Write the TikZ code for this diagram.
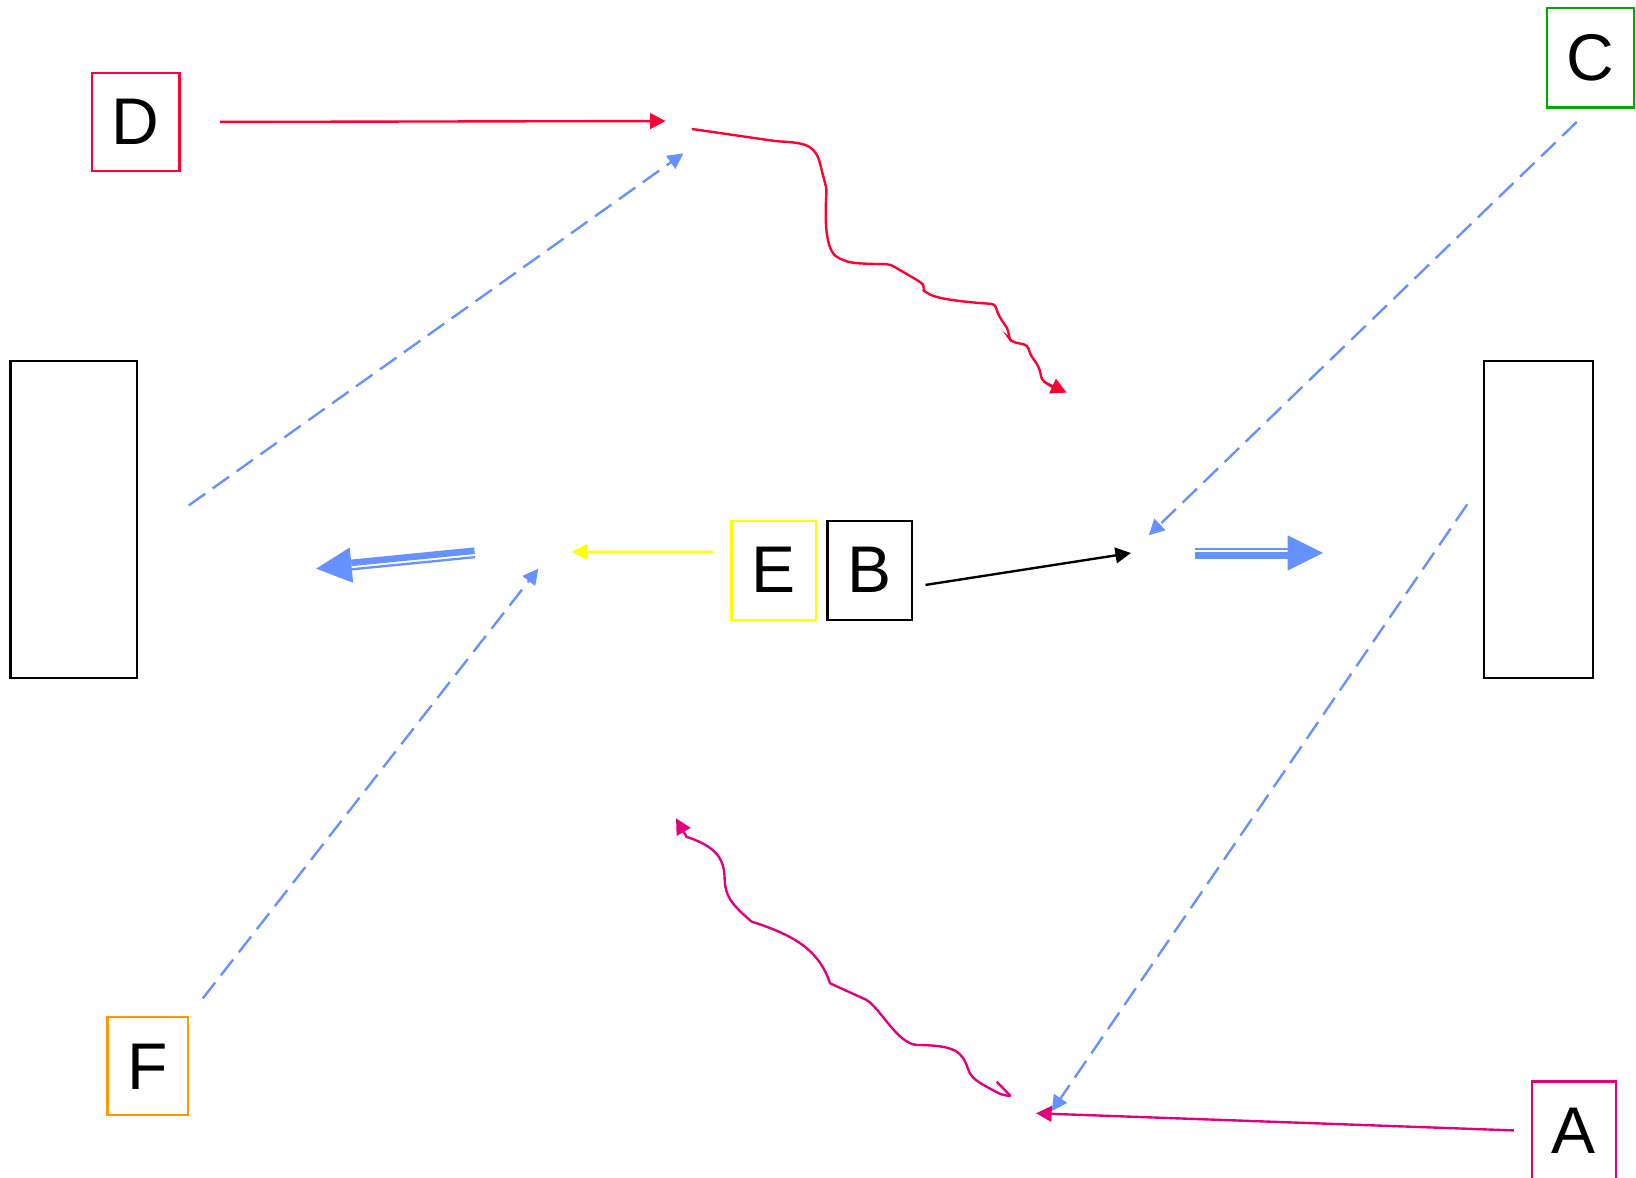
\documentclass[tikz,border=0pt]{standalone}
\usepackage{fontspec}
\setmainfont{Liberation Sans}
\usetikzlibrary{arrows.meta, positioning, calc}

\definecolor{linkred}{RGB}{255,0,51}
\definecolor{linkmag}{RGB}{224,0,128}
\definecolor{linkblue}{RGB}{102,146,255}
\definecolor{boxgreen}{RGB}{0,170,0}
\definecolor{boxorange}{RGB}{255,153,0}
\definecolor{boxyellow}{RGB}{255,255,0}

\tikzset{
    box/.style={draw, line width=1.2pt, inner sep=0pt, minimum width=1.62cm, minimum height=1.9cm, font=\fontsize{36}{40}\selectfont},
    wall/.style={draw, line width=1.2pt, minimum height=6.08cm},
    link/.style={line width=1.3pt, -{Triangle[length=8.5pt,width=8.5pt]}},
    dashlink/.style={link, linkblue, dash pattern=on 11pt off 5pt}
}

\begin{document}
\begin{tikzpicture}[x=0.02cm, y=-0.02cm]
        % Page size
        \useasboundingbox (0,0) rectangle (1568,1129);
        % Letter boxes
        \node[box, draw=linkred, minimum width=1.68cm, minimum height=1.88cm] (D) at (130,117) {D};
        \node[box, draw=boxgreen, minimum width=1.66cm] (C) at (1524.5,55.5) {C};
        \node[box, draw=boxyellow] (E) at (741.5,546.5) {E};
        \node[box, right=0.18cm of E] (B) {B};
        \node[box, draw=boxorange, minimum width=1.54cm, minimum height=1.88cm] (F) at (141.5,1022) {F};
        \node[box, draw=linkmag] (A) at (1508.5,1084) {A};
        % Tall empty boxes
        \node[wall, minimum width=2.42cm] (Lwall) at (70.5,498) {};
        \node[wall, minimum width=2.1cm] (Rwall) at (1474.5,498) {};
        % Free ends
        \coordinate (Dtip) at (638,116);
        \coordinate (Ctip) at (1101,513);
        \coordinate (Ltip) at (655,147);
        \coordinate (Rtip) at (1008,1065);
        \coordinate (Ftip) at (516,545);
        \coordinate (Etip) at (548,529);
        \coordinate (Btip) at (1084,530);
        \coordinate (Atip) at (993,1067);
        \coordinate (waveStart) at (663,123.6);
        \coordinate (waveEnd) at (1022.3,376.3);
        \coordinate (hookEnd) at (968.6,1050.4);
        \coordinate (waveTip) at (647.9,784.3);
        \coordinate (fatLs) at (455,530);
        \coordinate (fatLt) at (303,545);
        \coordinate (fatRs) at (1145,530);
        \coordinate (fatRt) at (1268,530);
        % Straight arrows
        \draw[link, linkred, shorten <=0.76cm] (D) -- (Dtip);
        \draw[link, boxyellow, shorten <=0.32cm] (E.157) -- (Etip);
        \draw[link, shorten <=0.24cm] (B.-21) -- (Btip);
        \draw[link, linkmag, shorten <=0.32cm] (A.west) -- (Atip);
        % Dashed arrows
        \draw[dashlink, shorten <=0.37cm] (C.south) -- (Ctip);
        \draw[dashlink, shorten <=1.2cm] (Lwall.-19) -- (Ltip);
        \draw[dashlink, shorten <=0.52cm] (Rwall.146) -- (Rtip);
        \draw[dashlink, shorten <=0.43cm] (F.north east) -- (Ftip);
        % Red wavy arrow
        \draw[link, linkred, rounded corners=2pt] (waveStart) -- (744.4,135.4)
            .. controls (775,137) and (782,140) .. (787.5,162.9) -- (792.3,181.5)
            .. controls (790,218) and (792,243) .. (808.3,249.2)
            .. controls (818,253) and (840,253) .. (853,253.3) -- (881.7,270)
            .. controls (885,273) and (886,279) .. (888.1,280.5)
            .. controls (900,287) and (930,290) .. (953.6,291.4)
            -- (955.2,297.1) -- (957.8,303.5) -- (963.2,311.5) -- (966.4,316.3)
            -- (967.3,324.3) -- (969.6,327.5) -- (984.6,330.7) -- (987.2,338.6)
            -- (988.7,341.8) -- (993.5,348.2) -- (996.7,354.6) -- (998.3,364.2)
            -- (1003.1,367.4) -- (waveEnd);
        % Magenta wavy arrow with a hook at its end
        \draw[link, linkmag] (hookEnd) .. controls (965,1050) and (960,1050) .. (952,1045)
            .. controls (935,1036) and (931,1033) .. (928,1025)
            .. controls (922,1007) and (915,1002) .. (878.6,1001.5)
            .. controls (860,1000) and (845,968) .. (830.6,958.4) -- (795.5,942.4)
            .. controls (785,910) and (760,896) .. (720.4,883.3)
            .. controls (700,866) and (695,858) .. (694.5,842)
            .. controls (694,824) and (688,812) .. (658,802) -- (waveTip);
        \draw[linkmag, line width=1.3pt] (hookEnd) -- ++(-13.4,-13.7);
        % Fat split arrows
        \foreach \s/\t in {fatLs/fatLt, fatRs/fatRt}{
            \coordinate (hb) at ($(\t)!0.68cm!(\s)$);
            \draw[linkblue, line width=3.6pt] ($(\s)!0.044cm!-90:(\t)$) -- ($(hb)!0.044cm!90:(\s)$);
            \draw[linkblue, line width=1.25pt] ($(\s)!0.08cm!90:(\t)$) -- ($(hb)!0.08cm!-90:(\s)$);
            \fill[linkblue] (\t) -- ($(hb)!0.34cm!90:(\t)$) -- ($(hb)!0.34cm!-90:(\t)$) -- cycle;
        }
    \end{tikzpicture}
\end{document}
